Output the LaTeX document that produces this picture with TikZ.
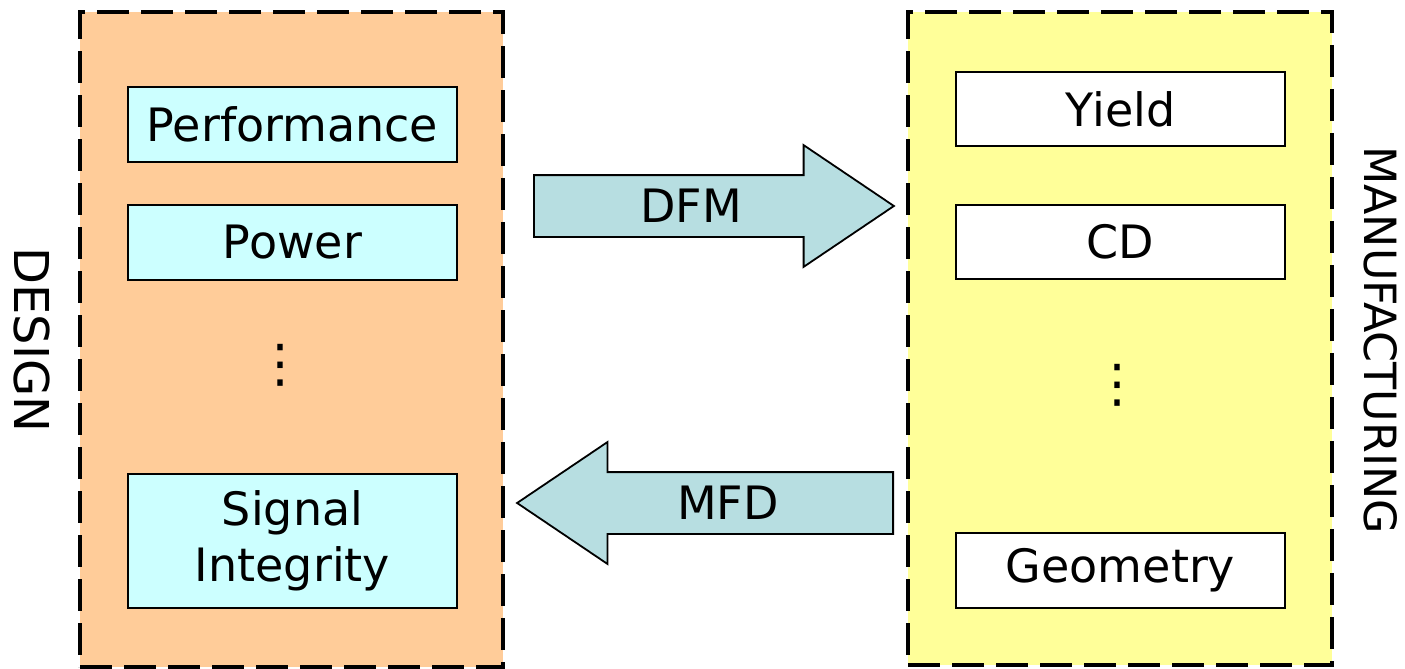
\documentclass[tikz,border=0pt]{standalone}
\usepackage{fontspec}
\setmainfont{DejaVu Sans}
\usepackage{tikz}
\usetikzlibrary{shapes.arrows}
\definecolor{DesignOrange}{RGB}{255, 204, 153}
\definecolor{ManufYellow}{RGB}{255, 255, 153}
\definecolor{PanelCyan}{RGB}{204, 255, 255}
\definecolor{FlowTeal}{RGB}{183, 222, 225}
\tikzset{
    group/.style={rectangle, draw=black, line width=2pt, dash pattern=on 16pt off 6pt},
    item/.style={rectangle, draw, line width=0.9pt, minimum width=164.5pt, align=center, font=\fontsize{23}{28}\selectfont},
    designitem/.style={item, fill=PanelCyan},
    manufitem/.style={item, fill=white},
    flow/.style={single arrow, draw, line width=0.9pt, fill=FlowTeal, single arrow head extend=15pt, single arrow tip angle=68, single arrow head indent=0pt, minimum height=180pt, inner xsep=0pt, inner ysep=6.75pt, text height=16.5pt, text depth=0pt, font=\fontsize{23}{28}\selectfont},
    side/.style={rotate=-90},
    dotsnode/.style={inner sep=0pt, font=\fontsize{26}{30}\selectfont}
}

\begin{document}
\begin{tikzpicture}[x=0.5pt, y=-0.5pt]
            \useasboundingbox (0,0) rectangle (1405,669);
            % the two sides
            \node[group, fill=DesignOrange, minimum width=211.5pt, minimum height=327.5pt] (design) at (291.5, 339.5) {};
            \node[group, fill=ManufYellow, minimum width=212pt, minimum height=326.5pt] (manuf) at (1120, 338.5) {};

            \node[side, font=\fontsize{24}{28}\selectfont] (designlabel) at (32, 340) {DESIGN};
            \node[side, font=\fontsize{22.2}{26}\selectfont] (manuflabel) at (1381, 340) {MANUFACTURING};

            % design concerns
            \node[designitem, minimum height=37.5pt] (perf) at (292.5, 124.5) {Performance};
            \node[designitem, minimum height=37.5pt] (power) at (292.5, 242.5) {Power};
            \node[dotsnode] (ddots) at (280, 365) {⋮};
            \node[designitem, minimum height=67pt] (signal) at (292.5, 541) {Signal\\Integrity};

            % manufacturing concerns
            \node[manufitem, minimum height=37pt] (yield) at (1120.5, 109) {Yield};
            \node[manufitem, minimum height=37pt] (cd) at (1120.5, 242) {CD};
            \node[dotsnode] (mdots) at (1117, 385) {⋮};
            \node[manufitem, minimum height=37.5pt] (geom) at (1120.5, 570.5) {Geometry};

            % the two flows
            \node[flow, anchor=tail] (dfm) at (533, 206) {DFM};
            \node[flow, minimum height=188pt, shape border rotate=180, anchor=tail] (mfd) at (894, 503) {MFD};
            \end{tikzpicture}
\end{document}
